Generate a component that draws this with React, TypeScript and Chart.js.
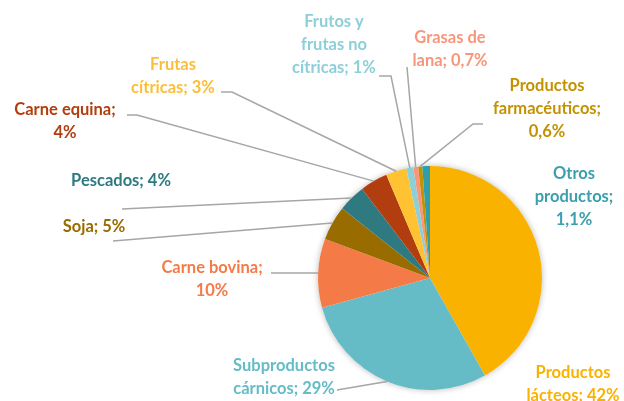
import React, { useEffect, useRef } from "react";
import { Chart, registerables } from "chart.js";

Chart.register(...registerables);

// ---- data ----
const categories = [
  "Productos lácteos",
  "Subproductos cárnicos",
  "Carne bovina",
  "Soja",
  "Pescados",
  "Carne equina",
  "Frutas cítricas",
  "Frutos y frutas no cítricas",
  "Grasas de lana",
  "Productos farmacéuticos",
  "Otros productos",
];
const shares = [42, 29, 10, 5, 4, 4, 3, 1, 0.7, 0.6, 1.1];
const labelText = [
  ["Productos", "lácteos; 42%"],
  ["Subproductos", "cárnicos; 29%"],
  ["Carne bovina;", "10%"],
  ["Soja; 5%"],
  ["Pescados; 4%"],
  ["Carne equina;", "4%"],
  ["Frutas", "cítricas; 3%"],
  ["Frutos y", "frutas no", "cítricas; 1%"],
  ["Grasas de", "lana; 0,7%"],
  ["Productos", "farmacéuticos;", "0,6%"],
  ["Otros", "productos;", "1,1%"],
];

// ---- styles ----
const sliceColors = [
  "#F9B200",
  "#65BCC6",
  "#F47B48",
  "#996C00",
  "#2E7A80",
  "#B23D0E",
  "#FFC232",
  "#8DCFD9",
  "#F7967A",
  "#C39200",
  "#2E9EAA",
];
const textColors = [
  "#F9B200",
  "#65BCC6",
  "#F47B48",
  "#996C00",
  "#2E7A80",
  "#B23D0E",
  "#FBBE3A",
  "#8DCFD9",
  "#F7967A",
  "#C39200",
  "#3AA0AD",
];

// label layout: centre x, first-line y, leader path (from label side towards pie)
const labelLayout: { cx: number; cy: number; path: number[][] }[] = [
  { cx: 573, cy: 373, path: [] },
  { cx: 284, cy: 366, path: [[337, 390]] },
  { cx: 212, cy: 268, path: [[271, 273]] },
  { cx: 94, cy: 227, path: [[113, 241]] },
  { cx: 121, cy: 181, path: [[122, 209]] },
  { cx: 65, cy: 110, path: [[127, 115], [137, 115]] },
  { cx: 173, cy: 65, path: [[221, 92], [232, 92]] },
  { cx: 334, cy: 22, path: [[379, 76], [391, 76]] },
  { cx: 450, cy: 38, path: [[407, 67]] },
  { cx: 547, cy: 86, path: [[483, 124], [473, 124]] },
  { cx: 574, cy: 174, path: [] },
];
const lineHeight = 23;
const fontSpec = "bold 16.5px Lato, 'Open Sans', sans-serif";

const labelPlugin = {
  id: "outsideLabels",
  beforeDatasetsDraw(chart: any) {
    const meta = chart.getDatasetMeta(0);
    const arc = meta.data[0];
    if (!arc) return;
    const { x, y, outerRadius } = arc.getProps(["x", "y", "outerRadius"], true);
    const ctx = chart.ctx;
    ctx.save();
    ctx.shadowColor = "rgba(0,0,0,0.28)";
    ctx.shadowBlur = 6;
    ctx.shadowOffsetX = 0;
    ctx.shadowOffsetY = 0;
    ctx.fillStyle = "#ffffff";
    ctx.beginPath();
    ctx.arc(x, y, outerRadius, 0, Math.PI * 2);
    ctx.fill();
    ctx.restore();
  },
  afterDatasetsDraw(chart: any) {
    const ctx = chart.ctx;
    const meta = chart.getDatasetMeta(0);
    ctx.save();
    meta.data.forEach((el: any, i: number) => {
      const { x, y, startAngle, endAngle, outerRadius } = el.getProps(
        ["x", "y", "startAngle", "endAngle", "outerRadius"],
        true
      );
      const mid = (startAngle + endAngle) / 2;
      const px = x + Math.cos(mid) * outerRadius;
      const py = y + Math.sin(mid) * outerRadius;
      const lay = labelLayout[i];
      if (lay.path.length) {
        ctx.strokeStyle = "#A6A6A6";
        ctx.lineWidth = 1.5;
        ctx.beginPath();
        ctx.moveTo(lay.path[0][0], lay.path[0][1]);
        for (let k = 1; k < lay.path.length; k++) ctx.lineTo(lay.path[k][0], lay.path[k][1]);
        ctx.lineTo(px, py);
        ctx.stroke();
      }
      ctx.fillStyle = textColors[i];
      ctx.font = fontSpec;
      ctx.textAlign = "center";
      ctx.textBaseline = "middle";
      labelText[i].forEach((t, k) => {
        ctx.fillText(t, lay.cx, lay.cy + k * lineHeight);
      });
    });
    ctx.restore();
  },
};

export default function App() {
  const ref = useRef<HTMLCanvasElement | null>(null);
  useEffect(() => {
    document.body.style.margin = "0";
    if (!ref.current) return;
    const chart = new Chart(ref.current, {
      type: "pie",
      data: {
        labels: categories,
        datasets: [
          {
            data: shares,
            backgroundColor: sliceColors,
            borderWidth: 0,
          },
        ],
      },
      options: {
        responsive: false,
        animation: false,
        devicePixelRatio: 1,
        layout: { padding: { left: 318, right: 82, top: 166, bottom: 11 } },
        plugins: {
          legend: { display: false },
          tooltip: { enabled: false },
        },
      },
      plugins: [labelPlugin],
    });
    return () => chart.destroy();
  }, []);
  return (
    <div style={{ position: "absolute", left: 0, top: 0, width: 624, height: 401, background: "#fff" }}>
      <canvas ref={ref} width={624} height={401} />
    </div>
  );
}
